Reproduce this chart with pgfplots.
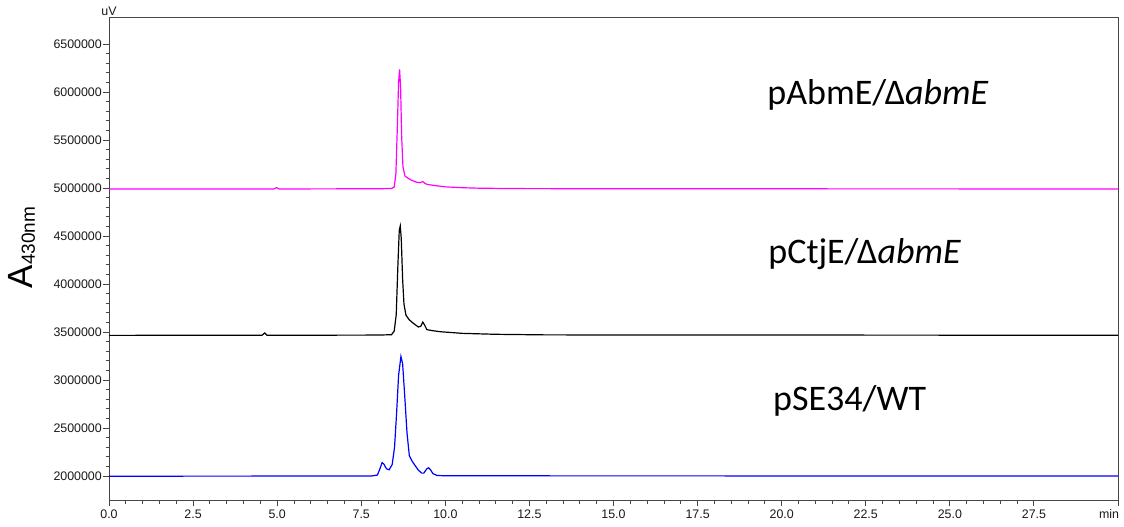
\documentclass[border=0pt]{standalone}
\usepackage{fontspec}
\setmainfont{Liberation Sans}
\newfontfamily\calibri{Carlito}[ItalicFont={Carlito Italic}]
\usepackage{pgfplots}
\pgfplotsset{compat=1.18}
\definecolor{trmag}{RGB}{255,0,255}
\definecolor{trblue}{RGB}{0,0,255}
\definecolor{axgray}{RGB}{70,70,70}

\begin{document}
\begin{tikzpicture}
\begin{axis}[
  scale only axis, width=1009pt, height=483pt,
  xmin=0, xmax=30, ymin=1750000, ymax=6781250,
  axis line style={axgray, line width=0.9pt},
  xtick={0,2.5,5,7.5,10,12.5,15,17.5,20,22.5,25,27.5},
  xticklabels={0.0,2.5,5.0,7.5,10.0,12.5,15.0,17.5,20.0,22.5,25.0,27.5},
  extra x ticks={30}, extra x tick labels={min},
  extra x tick style={xticklabel style={xshift=-9pt}},
  minor x tick num=4,
  ytick={2000000,2500000,3000000,3500000,4000000,4500000,5000000,5500000,6000000,6500000},
  minor y tick num=4,
  scaled y ticks=false,
  /pgf/number format/assume math mode=true,
  y tick label style={/pgf/number format/fixed, /pgf/number format/1000 sep={}, inner sep=1pt},
  tick align=outside, tick pos=left,
  major tick length=6pt, minor tick length=3.5pt,
  every tick/.style={axgray, line width=0.9pt},
  tick label style={font=\fontsize{12.4}{14}\selectfont, text=black!90},
  clip=false,
]
% pAbmE / delta abmE (magenta)
\addplot[trmag, line width=1.2pt] coordinates {
(0,4990000)(4.9,4990000)(4.98,5004000)(5.06,4990000)(8.0,4992000)(8.40,4995000)
(8.48,5010000)(8.53,5150000)(8.57,5600000)(8.61,6100000)(8.64,6235000)(8.67,6050000)
(8.70,5550000)(8.74,5220000)(8.80,5125000)(8.90,5100000)(9.0,5080000)(9.15,5060000)
(9.25,5055000)(9.33,5068000)(9.40,5045000)(9.5,5035000)(9.7,5025000)(10.0,5012000)
(10.5,5003000)(11,4998000)(12,4994000)(15,4992000)(30,4990000)};
% pCtjE / delta abmE (black)
\addplot[black, line width=1.2pt] coordinates {
(0,3465000)(4.55,3466000)(4.63,3490000)(4.70,3466000)(8.0,3468000)(8.40,3472000)
(8.48,3510000)(8.54,3680000)(8.59,4200000)(8.63,4560000)(8.66,4605000)(8.69,4470000)
(8.73,4050000)(8.77,3790000)(8.83,3675000)(8.92,3630000)(9.05,3590000)(9.2,3552000)
(9.27,3560000)(9.33,3603000)(9.38,3575000)(9.45,3525000)(9.6,3515000)(9.85,3503000)
(10.5,3486000)(11.5,3476000)(13,3470000)(30,3466000)};
% pSE34 / WT (blue)
\addplot[trblue, line width=1.2pt] coordinates {
(0,1998000)(7.8,2000000)(7.98,2010000)(8.05,2070000)(8.12,2140000)(8.17,2125000)
(8.25,2075000)(8.33,2065000)(8.42,2120000)(8.49,2300000)(8.55,2650000)(8.61,3050000)
(8.68,3245000)(8.73,3170000)(8.79,2850000)(8.86,2450000)(8.93,2210000)(9.02,2150000)
(9.1,2110000)(9.2,2060000)(9.3,2030000)(9.36,2030000)(9.45,2075000)(9.5,2085000)
(9.56,2065000)(9.63,2025000)(9.75,2006000)(10,2002000)(30,2000000)};
\node[anchor=base west, font=\calibri\fontsize{36}{40}\selectfont, inner sep=0pt]
  at (axis cs:19.57,5865000) {pAbmE/Δ\textit{abmE}};
\node[anchor=base west, font=\calibri\fontsize{36}{40}\selectfont, inner sep=0pt]
  at (axis cs:19.6,4218000) {pCtjE/Δ\textit{abmE}};
\node[anchor=base west, font=\calibri\fontsize{36}{40}\selectfont, inner sep=0pt]
  at (axis cs:19.74,2687000) {pSE34/WT};
\node[anchor=south, font=\fontsize{12.4}{14}\selectfont, inner sep=1pt, text=black!90]
  at (rel axis cs:0,1) {uV};
\end{axis}
\node[rotate=90, font=\fontsize{35}{38}\selectfont, inner sep=0pt]
  at ([xshift=-87pt,yshift=11pt]current axis.west) {A\raisebox{-2pt}{\fontsize{19}{20}\selectfont 430nm}};
\pgfresetboundingbox
\path ([shift={(-109pt,-26pt)}]current axis.south west) rectangle ([shift={(6pt,17pt)}]current axis.north east);
\end{tikzpicture}
\end{document}
